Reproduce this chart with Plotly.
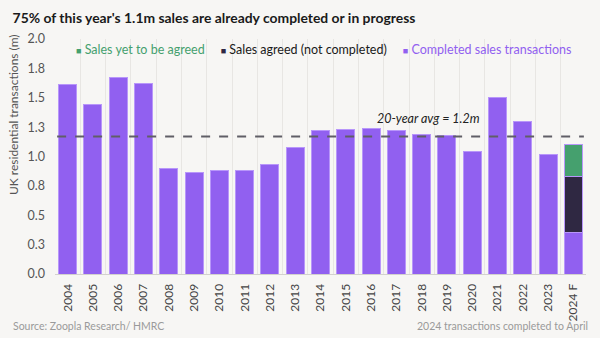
import plotly.graph_objects as go

years = ["2004", "2005", "2006", "2007", "2008", "2009", "2010", "2011", "2012", "2013",
         "2014", "2015", "2016", "2017", "2018", "2019", "2020", "2021", "2022", "2023", "2024 F"]
completed = [1.61, 1.44, 1.67, 1.62, 0.90, 0.86, 0.88, 0.88, 0.93, 1.08,
             1.22, 1.23, 1.24, 1.22, 1.19, 1.18, 1.04, 1.50, 1.30, 1.02, 0.35]
agreed = [None] * 20 + [0.48]
yet_to_agree = [None] * 20 + [0.27]
avg_20y = 1.17
ytick_vals = [0, 0.25, 0.5, 0.75, 1.0, 1.25, 1.5, 1.75, 2.0]
ytick_text = ["0.0", "0.3", "0.5", "0.8", "1.0", "1.3", "1.5", "1.8", "2.0"]
series_names = ["Completed sales transactions", "Sales agreed (not completed)", "Sales yet to be agreed"]

PURPLE = "#9160f0"
DARK = "#2f2842"
GREEN = "#45a06e"
EDGE = "#b896fa"
FONT = "Lato"

fig = go.Figure()
fig.add_trace(go.Bar(x=years, y=completed, name=series_names[0],
                     marker=dict(color=PURPLE, line=dict(color=EDGE, width=1))))
fig.add_trace(go.Bar(x=years, y=agreed, name=series_names[1],
                     marker=dict(color=DARK, line=dict(color=EDGE, width=1))))
fig.add_trace(go.Bar(x=years, y=yet_to_agree, name=series_names[2],
                     marker=dict(color=GREEN, line=dict(color=EDGE, width=1))))

fig.update_layout(
    width=600, height=338,
    paper_bgcolor="#f7f6f4", plot_bgcolor="#f7f6f4",
    barmode="stack", bargap=0.29,
    margin=dict(l=55, r=14, t=39, b=64),
    font=dict(family=FONT, color="#555"),
    title=dict(text="<b>75% of this year's 1.1m sales are already completed or in progress</b>",
               x=0.021, xanchor="left", y=0.947, yanchor="middle",
               font=dict(family=FONT, size=13.9, color="#1a1a1a")),
    showlegend=False,
    xaxis=dict(type="category", tickson="boundaries", showgrid=True, gridcolor="#e8e6e3", gridwidth=1,
               ticks="", tickangle=-90, tickfont=dict(family=FONT, size=12, color="#444"),
               ticklabelstandoff=4,
               showline=True, linecolor="#d3d1ce", linewidth=1),
    yaxis=dict(range=[0, 2.0], tickvals=ytick_vals, ticktext=ytick_text, showgrid=False,
               zeroline=False, tickfont=dict(family=FONT, size=12.5, color="#555"),
               ticklabelstandoff=9),
)

# y-axis title
fig.add_annotation(x=(13 - 55) / 531, xref="paper", xanchor="center",
                   y=(338 - 64 - 115) / 235, yref="paper", yanchor="middle",
                   showarrow=False, textangle=-90,
                   text="UK residential transactions (m)",
                   font=dict(family=FONT, size=12, color="#555"))

# legend row
sq = "<span style='font-size:9px'>■</span>"
legend_html = (f"<span style='color:{GREEN}'>{sq} {series_names[2]}</span>"
               f"     <span style='color:{DARK}'>{sq} "
               f"<span style='color:#1a1a1a'>{series_names[1]}</span></span>"
               f"     <span style='color:{PURPLE}'>{sq} {series_names[0]}</span>")
fig.add_annotation(x=(74 - 55) / 531, xref="paper", xanchor="left", y=(338 - 64 - 50) / 235, yref="paper",
                   yanchor="middle", showarrow=False, text=legend_html,
                   font=dict(family=FONT, size=12.5))

fig.add_shape(type="line", xref="paper", yref="y", x0=0.004, x1=0.996, y0=avg_20y, y1=avg_20y,
              line=dict(color="#605e66", width=2, dash="dash"))
fig.add_annotation(x=(428 - 55) / 531, xref="paper", xanchor="center", y=avg_20y, yref="y", yshift=18,
                   text="<i>20-year avg = 1.2m</i>", showarrow=False,
                   font=dict(family=FONT, size=12.5, color="#222"))
fig.add_annotation(x=(11 - 55) / 531, xref="paper", xanchor="left", y=(338 - 64 - 326) / 235, yref="paper",
                   yanchor="middle",
                   text="Source: Zoopla Research/ HMRC", showarrow=False,
                   font=dict(family=FONT, size=10.5, color="#9a9a9a"))
fig.add_annotation(x=(590 - 55) / 531, xref="paper", xanchor="right", y=(338 - 64 - 326) / 235, yref="paper",
                   yanchor="middle",
                   text="2024 transactions completed to April", showarrow=False,
                   font=dict(family=FONT, size=10.5, color="#9a9a9a"))

fig.write_html("out.html")
